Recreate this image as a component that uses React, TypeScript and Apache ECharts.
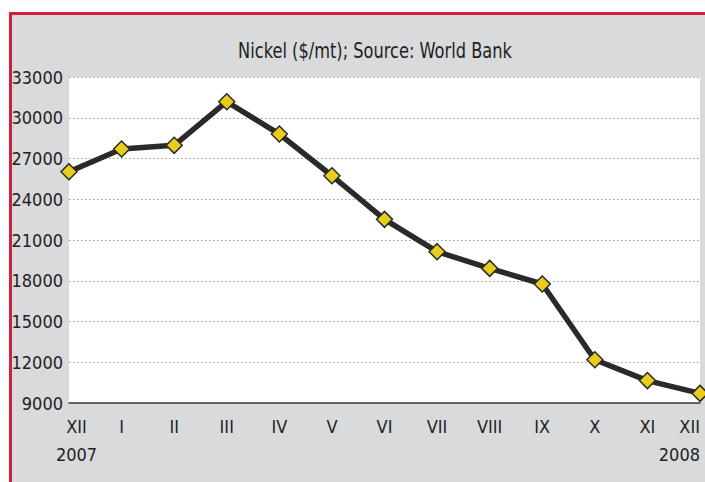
import React, { useEffect, useRef } from "react";
import * as echarts from "echarts";

const months = ["XII", "I", "II", "III", "IV", "V", "VI", "VII", "VIII", "IX", "X", "XI", "XII"];
const years = ["2007", "", "", "", "", "", "", "", "", "", "", "", "2008"];
const nickelPrice = [26030, 27700, 27970, 31180, 28800, 25730, 22520, 20140, 18910, 17760, 12180, 10650, 9710];
const yMin = 9000;
const yMax = 33000;
const yStep = 3000;
const titleText = "Nickel ($/mt); Source: World Bank";

const FONT = "'DejaVu Sans Condensed', 'Liberation Sans Narrow', 'Noto Sans', sans-serif";

export default function App() {
  const ref = useRef<HTMLDivElement>(null);
  useEffect(() => {
    if (!ref.current) return;
    const chart = echarts.init(ref.current, undefined, { renderer: "svg" });
    const n = months.length;
    const cats = months.map((m, i) => {
      const label = years[i] ? m + "\n" + years[i] : m;
      if (i === 0) return { value: label, textStyle: { padding: [0, 0, 0, 15] } };
      if (i === n - 1) return { value: label, textStyle: { align: "right" } };
      return label;
    });
    chart.setOption({
      animation: false,
      backgroundColor: "#ffffff",
      graphic: [
        {
          type: "rect",
          z: -100,
          silent: true,
          shape: { x: 10.5, y: 13.5, width: 900, height: 700 },
          style: { fill: "#d9dadc", stroke: "#d21f3c", lineWidth: 3 },
        },
        {
          type: "text",
          z: 10,
          silent: true,
          x: 375,
          y: 50,
          scaleX: 0.82,
          style: {
            text: titleText,
            x: 0,
            y: 0,
            align: "center",
            verticalAlign: "middle",
            fontFamily: FONT,
            fontSize: 22,
            fill: "#231f20",
          },
        },
      ],
      grid: {
        left: 69,
        top: 77,
        width: 631,
        height: 326,
        show: true,
        backgroundColor: "#ffffff",
        borderWidth: 0,
        containLabel: false,
      },
      xAxis: {
        type: "category",
        boundaryGap: false,
        data: cats,
        axisLine: { show: true, lineStyle: { color: "#3a3a3a", width: 1.5 } },
        axisTick: { show: false },
        axisLabel: {
          fontFamily: FONT,
          fontSize: 18,
          color: "#231f20",
          lineHeight: 28,
          margin: 9,
          interval: 0,
        },
        splitLine: { show: false },
      },
      yAxis: {
        type: "value",
        min: yMin,
        max: yMax,
        interval: yStep,
        axisLine: { show: false },
        axisTick: { show: false },
        axisLabel: {
          fontFamily: FONT,
          fontSize: 18,
          color: "#231f20",
          margin: 6,
          formatter: (v: number) => String(v),
        },
        splitLine: { show: true, lineStyle: { color: "#9a9a9a", type: [1.5, 2.5], width: 1 } },
      },
      series: [
        {
          type: "line",
          data: nickelPrice,
          symbol: "diamond",
          symbolSize: 16,
          showAllSymbol: true,
          lineStyle: { color: "#2b2a29", width: 5.5 },
          itemStyle: { color: "#e9cd1b", borderColor: "#2b2a29", borderWidth: 1.5 },
          z: 5,
        },
      ],
    });
    return () => chart.dispose();
  }, []);
  return (
    <div
      ref={ref}
      style={{ position: "absolute", left: 0, top: 0, width: 705, height: 482 }}
    />
  );
}
